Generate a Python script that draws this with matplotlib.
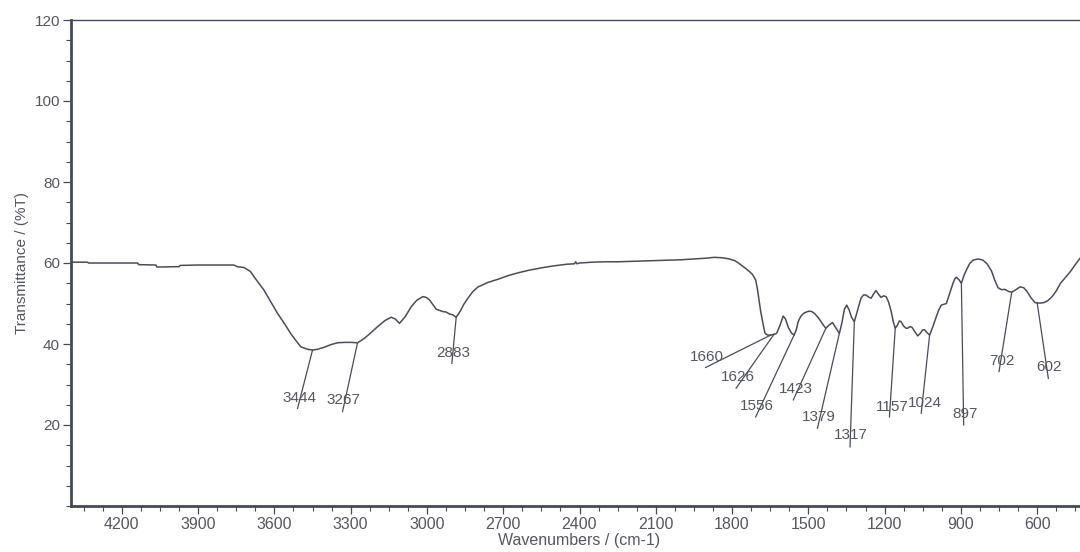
import matplotlib
matplotlib.use("Agg")
import matplotlib.pyplot as plt
from matplotlib.ticker import MultipleLocator, FixedLocator

# ---- spectrum data (wavenumber cm-1, %T) ----
wavenumber = [4400, 4335, 4331, 4138, 4134, 4066, 4062, 3975, 3971, 3900, 3800,
              3760, 3746, 3735, 3720, 3694, 3680, 3641, 3615, 3588, 3560, 3536,
              3515, 3496, 3470, 3450, 3430, 3404, 3380, 3352, 3325, 3299, 3273,
              3246, 3220, 3194, 3165, 3141, 3125, 3108, 3085, 3062, 3040, 3016,
              3003, 2990, 2975, 2964, 2950, 2937, 2925, 2911, 2898, 2885, 2870,
              2855, 2839, 2820, 2799, 2760, 2720, 2680, 2640, 2600, 2550, 2500,
              2450, 2420, 2415, 2410, 2400, 2350, 2300, 2250, 2200, 2150, 2100,
              2050, 2000, 1950, 1900, 1870, 1840, 1810, 1790, 1775, 1760, 1745,
              1730, 1720, 1707, 1700, 1694, 1688, 1681, 1675, 1670, 1660, 1648,
              1640, 1635, 1625, 1612, 1599, 1590, 1578, 1566, 1556, 1548, 1540,
              1530, 1520, 1508, 1497, 1486, 1475, 1462, 1450, 1440, 1431, 1418,
              1405, 1392, 1378, 1368, 1358, 1349, 1340, 1330, 1319, 1306, 1293,
              1283, 1273, 1263, 1253, 1244, 1234, 1224, 1214, 1204, 1194, 1184,
              1174, 1165, 1158, 1150, 1142, 1135, 1125, 1116, 1109, 1100, 1092,
              1083, 1076, 1070, 1060, 1050, 1043, 1033, 1023, 1010, 997, 987,
              977, 967, 957, 944, 931, 924, 918, 908, 898, 888, 878, 865, 852,
              832, 813, 797, 780, 767, 754, 740, 727, 713, 700, 684, 667, 653,
              640, 624, 608, 590, 575, 558, 541, 525, 508, 488, 469, 450, 431,
              415, 400]
transmittance = [60.2, 60.2, 60.0, 60.0, 59.6, 59.5, 59.0, 59.1, 59.4, 59.5, 59.5,
                 59.5, 59.1, 59.0, 58.9, 57.9, 56.6, 53.3, 50.5, 47.6, 45.0, 42.6,
                 40.8, 39.3, 38.7, 38.5, 38.7, 39.2, 39.8, 40.3, 40.4, 40.4, 40.3,
                 41.4, 42.8, 44.3, 45.8, 46.6, 46.2, 45.1, 46.8, 49.2, 50.8, 51.7,
                 51.5, 50.9, 49.6, 48.6, 48.3, 48.0, 47.9, 47.4, 47.2, 46.6, 48.0,
                 49.8, 51.3, 52.9, 54.1, 55.2, 56.0, 56.9, 57.6, 58.2, 58.8, 59.3,
                 59.7, 59.8, 60.3, 59.8, 60.0, 60.2, 60.3, 60.3, 60.4, 60.5, 60.6,
                 60.7, 60.8, 61.0, 61.2, 61.4, 61.3, 61.0, 60.6, 60.0, 59.3, 58.6,
                 57.8, 57.2, 55.8, 53.5, 50.9, 48.3, 45.9, 44.0, 42.6, 42.2, 42.2,
                 42.3, 42.4, 42.6, 44.5, 46.9, 46.2, 44.0, 42.7, 42.2, 43.4, 45.5,
                 46.8, 47.5, 47.9, 48.1, 48.0, 47.5, 46.6, 45.5, 44.6, 43.9, 44.7,
                 45.3, 44.0, 42.6, 45.2, 48.6, 49.6, 48.5, 46.6, 45.5, 48.4, 51.3,
                 52.1, 52.1, 51.6, 51.3, 52.3, 53.2, 52.3, 51.5, 51.9, 51.7, 50.3,
                 48.0, 45.3, 43.9, 44.6, 45.7, 45.5, 44.4, 43.9, 43.9, 44.3, 44.1,
                 43.2, 42.6, 42.0, 42.6, 43.5, 43.5, 42.8, 42.2, 44.3, 46.7, 48.4,
                 49.6, 49.8, 50.0, 52.5, 55.0, 56.1, 56.5, 55.9, 55.0, 56.9, 58.3,
                 59.9, 60.7, 61.0, 60.7, 59.8, 58.1, 55.8, 53.9, 53.4, 53.5, 53.0,
                 52.8, 53.4, 54.1, 53.9, 53.0, 51.4, 50.2, 50.1, 50.2, 50.7, 51.7,
                 53.1, 55.0, 56.5, 57.9, 59.6, 61.2, 62.3, 63.3]

# ---- peak annotations ----
peak_labels = ["3444", "3267", "2883", "1660", "1626", "1556", "1423", "1379",
               "1317", "1157", "1024", "897", "702", "602"]
peak_wn = [3450, 3273, 2885, 1648, 1635, 1556, 1431, 1378, 1319, 1158, 1023, 898, 700, 600]
peak_T = [38.5, 40.3, 46.6, 42.2, 42.4, 42.2, 43.9, 42.6, 45.5, 44.0, 42.2, 55.0, 52.8, 50.2]
leader_end_wn = [3509, 3332, 2902, 1904, 1784, 1707, 1559, 1464, 1336, 1181, 1056, 889, 750, 556]
leader_end_T = [24.1, 23.3, 35.2, 34.2, 29.1, 22.0, 26.2, 19.2, 14.6, 22.0, 22.9, 20.0, 33.2, 31.5]
label_wn = [3502, 3328, 2898, 1898, 1776, 1701, 1549, 1457, 1332, 1168, 1043, 885, 740, 552]
label_T = [26.6, 26.2, 37.9, 36.7, 31.8, 24.8, 28.9, 22.0, 17.5, 24.5, 25.4, 22.7, 35.9, 34.2]

x_major = [4200, 3900, 3600, 3300, 3000, 2700, 2400, 2100, 1800, 1500, 1200, 900, 600]
y_major = [20, 40, 60, 80, 100, 120]

line_col = "#4a4c5c"
text_col = "#55575f"
spine_col = "#454a5a"

fig = plt.figure(figsize=(10.8, 5.52), dpi=100)
fig.patch.set_facecolor("white")
W, H = 1080, 552
left, right, top, bottom = 71, 1088, 20, 506
ax = fig.add_axes([left / W, 1 - bottom / H, (right - left) / W, (bottom - top) / H])

ax.plot(wavenumber, transmittance, color=line_col, lw=1.1, solid_joinstyle="round")

for lab, pw, pt, ew, et, tw, tt in zip(peak_labels, peak_wn, peak_T, leader_end_wn,
                                       leader_end_T, label_wn, label_T):
    ax.plot([pw, ew], [pt, et], color=line_col, lw=0.9)
    ax.text(tw, tt, lab, ha="center", va="center", fontsize=11, color=text_col,
            family=["Liberation Sans", "DejaVu Sans"])

ax.set_xlim(4400, 400)
ax.set_ylim(0, 120)

ax.xaxis.set_major_locator(FixedLocator(x_major))
ax.xaxis.set_minor_locator(MultipleLocator(75))
ax.yaxis.set_major_locator(FixedLocator(y_major))
ax.yaxis.set_minor_locator(MultipleLocator(5))

ax.tick_params(axis="both", which="major", direction="out", length=6, width=0.9,
               colors=spine_col, labelcolor=text_col, labelsize=11, pad=2)
ax.tick_params(axis="both", which="minor", direction="out", length=3.5, width=0.8,
               colors=spine_col)
for lbl in ax.get_xticklabels():
    lbl.set_family(["Liberation Sans Narrow", "Liberation Sans", "DejaVu Sans"])
    lbl.set_fontsize(11.5)
for lbl in ax.get_yticklabels():
    lbl.set_family(["Liberation Sans", "DejaVu Sans"])

ax.spines["left"].set_linewidth(2.0)
ax.spines["bottom"].set_linewidth(2.0)
ax.spines["top"].set_linewidth(1.0)
ax.spines["right"].set_visible(False)
for s in ("left", "bottom", "top"):
    ax.spines[s].set_color(spine_col)

ax.set_xlabel("Wavenumbers / (cm-1)", fontsize=11.5, color=text_col, labelpad=1,
              family=["Liberation Sans Narrow", "Liberation Sans", "DejaVu Sans"])
ax.set_ylabel("Transmittance / (%T)", fontsize=11, color=text_col, labelpad=4,
              family=["Liberation Sans", "DejaVu Sans"])

fig.savefig("out.png", dpi=100, facecolor="white")
